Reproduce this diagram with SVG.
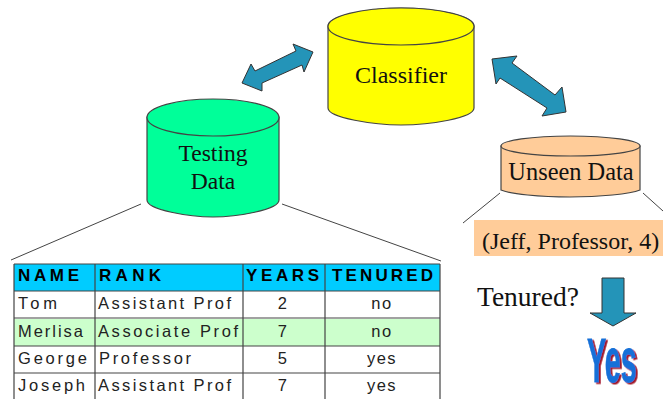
<svg xmlns="http://www.w3.org/2000/svg" width="663" height="399" viewBox="0 0 663 399">
<defs>
<filter id="sh" x="-20%" y="-20%" width="150%" height="150%"><feDropShadow dx="4" dy="1.5" stdDeviation="0.2" flood-color="#a01828"/></filter>
</defs>
<style>
.s{font-family:"Liberation Serif","Times New Roman",serif;fill:#111}
.c{stroke:#444;stroke-width:1.2}
.ar{fill:#2494b8;stroke:#333;stroke-width:1;stroke-linejoin:miter}
.l{stroke:#444;stroke-width:1;fill:none}
.t{font-family:"Liberation Sans",Arial,sans-serif;font-size:16.5px;fill:#222}
.h{font-family:"Liberation Sans",Arial,sans-serif;font-size:17px;font-weight:bold;fill:#000}
.m{text-anchor:middle;letter-spacing:1.5px}
.g{stroke:#444;stroke-width:1.2;fill:none}
</style>
<rect width="663" height="399" fill="#fff"/>
<g id="connectors">
<path class="ar" d="M313 52L293 44L296 51L255 71L251 64L242 83L262 91L262 83L302 65L304 72Z"/>
<path class="ar" d="M492 59L517 56L512 63L555 95L562 87L566 112L542 116L547 108L500 78L496 84Z"/>
<path class="l" d="M141 204L11 260M282 204L441 261M500 193L463 223M643 193L663 211"/>
<path class="ar" d="M602 278H624V313H636L613 326L590 313H602Z"/>
</g>
<g id="classifier">
<path class="c" fill="#ff0" d="M328 26C328 15 375 8 401 8C430 8 474 15 474 26V108C474 118 430 125 401 125C375 125 328 118 328 108Z"/>
<ellipse class="c" fill="#ff0" cx="401" cy="26.500" rx="73" ry="18.500"/>
<text class="s" text-anchor="middle" x="401" y="83" font-size="24">Classifier</text>
</g>
<g id="testing">
<path class="c" fill="#00ff99" d="M147 117V200C147 210 190 217 213 217C236 217 279 210 279 200V117Z"/>
<ellipse class="c" fill="#00ff99" cx="213" cy="117.500" rx="66" ry="18.500"/>
<text class="s" text-anchor="middle" x="213" y="161" font-size="23.600">Testing</text>
<text class="s" text-anchor="middle" x="213" y="189" font-size="23.600">Data</text>
</g>
<g id="unseen">
<path class="c" fill="#ffcc99" d="M501 146V190C510 194 540 197 570 197C600 197 630 194 640 190V146Z"/>
<ellipse class="c" fill="#ffcc99" cx="570.500" cy="146" rx="69.500" ry="10"/>
<text class="s" text-anchor="middle" x="571" y="180" font-size="24.400">Unseen Data</text>
</g>
<g id="query">
<rect x="474" y="220" width="189" height="36" fill="#ffcc99"/>
<text class="s" x="482" y="249" font-size="24">(Jeff, Professor, 4)</text>
<text class="s" x="477" y="306" font-size="27.500">Tenured?</text>
</g>
<g id="yes">
<text x="0" y="0" text-anchor="middle" font-family="Liberation Sans,Arial,sans-serif" font-size="63" font-weight="bold" fill="#1470d8" stroke="#1470d8" stroke-width="0.8" filter="url(#sh)" transform="translate(612 382) scale(.46 1)">Yes</text>
</g>
<g id="table">
<rect x="14" y="264" width="426" height="27" fill="#00ccff"/>
<rect x="14" y="319" width="426" height="27" fill="#ccffcc"/>
<path class="g" d="M14 264H440M14 291H440M14 318H440M14 346H440M14 373H440M14 264V399M95 264V399M243 264V399M325 264V399M440 264V399"/>
<text class="h" x="18" y="281" textLength="61">NAME</text>
<text class="h" x="99" y="281" textLength="62">RANK</text>
<text class="h" x="246" y="281" textLength="73">YEARS</text>
<text class="h" x="332" y="281" textLength="101">TENURED</text>
<text class="t" x="18" y="309" textLength="39">Tom</text>
<text class="t" x="98" y="309" textLength="133">Assistant Prof</text>
<text class="t m" x="283" y="309">2</text>
<text class="t m" x="382" y="309">no</text>
<text class="t" x="18" y="337" textLength="65">Merlisa</text>
<text class="t" x="98" y="337" textLength="140">Associate Prof</text>
<text class="t m" x="283" y="337">7</text>
<text class="t m" x="382" y="337">no</text>
<text class="t" x="18" y="364" textLength="69">George</text>
<text class="t" x="99" y="364" textLength="92">Professor</text>
<text class="t m" x="283" y="364">5</text>
<text class="t m" x="382" y="364">yes</text>
<text class="t" x="18" y="391" textLength="67">Joseph</text>
<text class="t" x="98" y="391" textLength="133">Assistant Prof</text>
<text class="t m" x="283" y="391">7</text>
<text class="t m" x="382" y="391">yes</text>
</g>
</svg>
